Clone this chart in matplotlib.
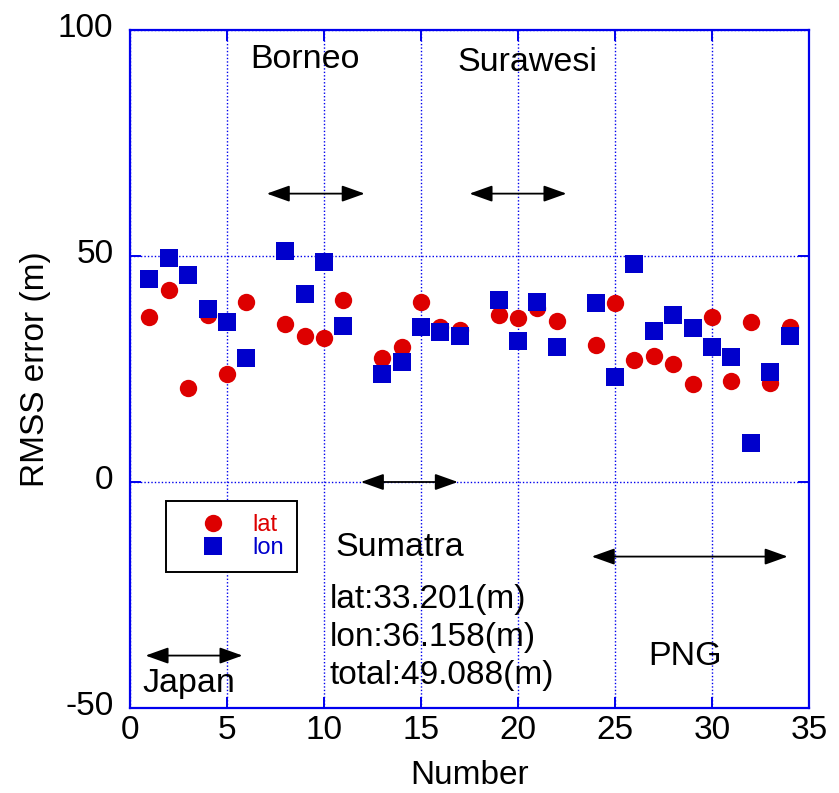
import numpy as np
import matplotlib
matplotlib.use("Agg")
import matplotlib.pyplot as plt
import matplotlib.transforms as mtransforms

plt.rcParams['font.family'] = ['Liberation Sans', 'DejaVu Sans']
plt.rcParams['axes.unicode_minus'] = False

# station numbers and RMSS errors (m)
num_lat = [1, 2, 3, 4, 5, 6, 8, 9, 10, 11, 13, 14, 15, 16, 17,
           19, 20, 21, 22, 24, 25, 26, 27, 28, 29, 30, 31, 32, 33, 34]
lat_err = [36.6, 42.4, 20.7, 37.0, 24.0, 39.9, 34.9, 32.4, 31.9, 40.3, 27.5, 29.9, 39.9, 34.4, 33.6,
           36.9, 36.2, 38.6, 35.7, 30.3, 39.5, 27.0, 27.9, 26.2, 21.6, 36.6, 22.4, 35.4, 21.8, 34.4]
num_lon = num_lat
lon_err = [44.9, 49.5, 45.7, 38.3, 35.3, 27.4, 51.1, 41.6, 48.7, 34.5, 24.0, 26.5, 34.4, 33.2, 32.4,
           40.3, 31.2, 39.9, 29.9, 39.5, 23.2, 48.2, 33.3, 36.9, 34.1, 29.9, 27.7, 8.6, 24.4, 32.4]

# region spans (start, end, level) and their labels
spans = [(7.05, 12.1, 63.8), (17.5, 22.5, 63.8), (11.9, 16.9, 0.0), (23.8, 33.9, -16.5), (0.8, 5.8, -38.4)]
region_labels = [("Borneo", 6.2, 93.4), ("Surawesi", 16.9, 92.7), ("Sumatra", 10.6, -14.6),
                 ("PNG", 26.7, -38.7), ("Japan", 0.65, -44.5)]
totals = ["lat:33.201(m)", "lon:36.158(m)", "total:49.088(m)"]

RED = '#dd0000'
BLUE = '#0000cc'
AXBLUE = '#0000ee'

fig = plt.figure(figsize=(8.39, 7.93), dpi=100)
ax = fig.add_axes([130 / 839, 1 - 708 / 793, 679 / 839, 678 / 793])

ax.set_xlim(0, 35)
ax.set_ylim(-50, 100)
ax.set_xticks([0, 5, 10, 15, 20, 25, 30, 35])
ax.set_yticks([-50, 0, 50, 100])

ax.grid(True, color=AXBLUE, linestyle=(0, (1, 1.5)), linewidth=1.0, zorder=0)
for s in ax.spines.values():
    s.set_color(AXBLUE)
    s.set_linewidth(1.6)
ax.tick_params(direction='in', length=8, width=1.4, color=AXBLUE,
               top=True, right=True, labelsize=24)
ax.tick_params(axis='x', pad=5)
ax.tick_params(axis='y', pad=12)

# y tick labels sit a little above their gridlines
lift = mtransforms.ScaledTranslation(0, 5 / 100, fig.dpi_scale_trans)
for lbl in ax.get_yticklabels():
    lbl.set_transform(lbl.get_transform() + lift)

ax.plot(num_lat, lat_err, 'o', color=RED, ms=12.5, mew=0, label='lat', zorder=3)
ax.plot(num_lon, lon_err, 's', color=BLUE, ms=12.5, mew=0, label='lon', zorder=4)

for x0, x1, y in spans:
    ax.annotate('', xy=(x1, y), xytext=(x0, y),
                arrowprops=dict(arrowstyle='<|-|>,head_length=0.7,head_width=0.25',
                                color='black', lw=1.3, mutation_scale=20,
                                shrinkA=0, shrinkB=0), zorder=5)

for txt, x, y in region_labels:
    ax.text(x, y, txt, fontsize=24.5, ha='left', va='center', zorder=6)

for i, txt in enumerate(totals):
    ax.text(10.3, -26.1 - 8.3 * i, txt, fontsize=24, ha='left', va='center', zorder=6)

leg = ax.legend(loc='upper left', bbox_to_anchor=(166 / 839, 1 - 501 / 793),
                bbox_transform=fig.transFigure, fontsize=17, frameon=True,
                fancybox=False, edgecolor='black', framealpha=1,
                borderpad=0.55, handlelength=2.85, handletextpad=0.26,
                labelspacing=0.05, borderaxespad=0, labelcolor=[RED, BLUE])
leg.get_frame().set_linewidth(1.4)

ax.set_xlabel('Number', fontsize=24, labelpad=10)
ax.set_ylabel('RMSS error (m)', fontsize=24, labelpad=5)

fig.savefig('out.png', dpi=100)
